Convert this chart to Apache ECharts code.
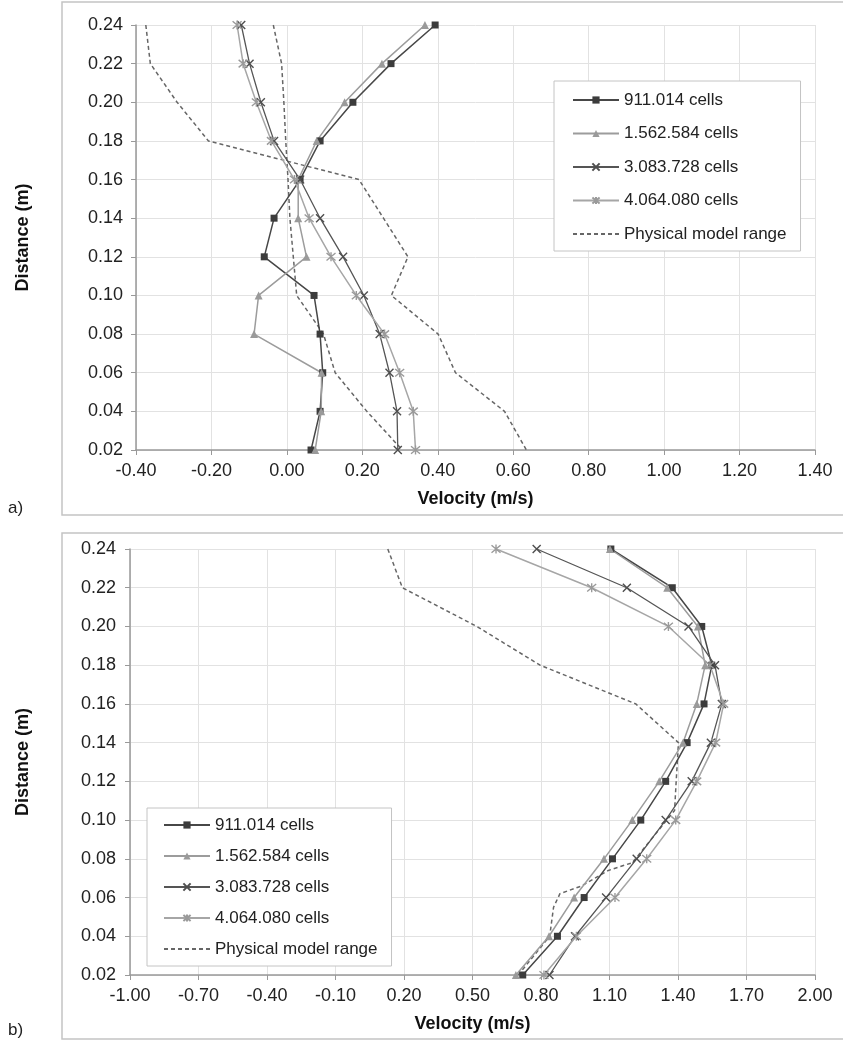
<!DOCTYPE html>
<html>
<head>
<meta charset="utf-8">
<script src="https://cdn.jsdelivr.net/npm/echarts@6/dist/echarts.min.js"></script>
<style>
  html, body { margin: 0; padding: 0; background: #fff; }
  #main { width: 843px; height: 1045px; }
</style>
</head>
<body>
<div id="main"></div>
<script>
// heights of the measuring points (m)
var distance = [0.24, 0.22, 0.20, 0.18, 0.16, 0.14, 0.12, 0.10, 0.08, 0.06, 0.04, 0.02];
var cellNames = ['911.014 cells', '1.562.584 cells', '3.083.728 cells', '4.064.080 cells'];
var rangeName = 'Physical model range';

// a) velocities (m/s)
var a911 = [0.393, 0.276, 0.175, 0.088, 0.035, -0.034, -0.060, 0.072, 0.088, 0.095, 0.088, 0.064];
var a1562 = [0.366, 0.252, 0.153, 0.079, 0.030, 0.030, 0.052, -0.075, -0.087, 0.092, 0.091, 0.075];
var a3083 = [-0.121, -0.099, -0.069, -0.034, 0.035, 0.088, 0.149, 0.204, 0.246, 0.272, 0.292, 0.294];
var a4064 = [-0.132, -0.116, -0.081, -0.041, 0.020, 0.059, 0.117, 0.184, 0.259, 0.299, 0.335, 0.341];
var aRangeOuter = [-0.374, -0.362, -0.291, -0.208, 0.191, 0.256, 0.321, 0.277, 0.401, 0.447, 0.577, 0.635];
var aRangeInner = [-0.036, -0.014, -0.008, -0.003, 0.003, 0.008, 0.017, 0.026, 0.097, 0.128, 0.212, 0.306];

// b) velocities (m/s)
var b911 = [1.106, 1.375, 1.504, 1.548, 1.514, 1.440, 1.346, 1.237, 1.113, 0.989, 0.872, 0.720];
var b1562 = [1.102, 1.353, 1.487, 1.519, 1.482, 1.422, 1.318, 1.200, 1.076, 0.945, 0.835, 0.690];
var b3083 = [0.781, 1.176, 1.446, 1.562, 1.592, 1.544, 1.460, 1.346, 1.219, 1.085, 0.949, 0.837];
var b4064 = [0.603, 1.022, 1.358, 1.540, 1.600, 1.565, 1.482, 1.390, 1.263, 1.124, 0.955, 0.813];
var bRangeDist = [0.24, 0.22, 0.20, 0.18, 0.16, 0.14, 0.12, 0.105, 0.078, 0.074, 0.066, 0.062, 0.055, 0.04, 0.02];
var bRangeVel = [0.129, 0.193, 0.519, 0.796, 1.215, 1.402, 1.392, 1.385, 1.200, 1.095, 0.978, 0.883, 0.855, 0.838, 0.700];

var FONT = "'Liberation Sans', Arial, sans-serif";

function pairs(xs, ys) {
    return xs.map(function (x, i) { return [x, ys[i]]; });
}

// marker look for each mesh
var looks = [
    { symbol: 'rect', size: 7, color: '#3c3c3c', line: '#474747', width: 1.5 },
    { symbol: 'triangle', size: 8, color: '#9a9a9a', line: '#9c9c9c', width: 1.5 },
    { symbol: 'path://M0,0L10,10M10,0L0,10', size: 8, color: 'transparent', border: '#4e4e4e', line: '#555', width: 1.3 },
    { symbol: 'path://M0,0L10,10M10,0L0,10M5,-1L5,11', size: 9, color: 'transparent', border: '#9a9a9a', line: '#a6a6a6', width: 1.5 }
];

function meshSeries(name, look, xs, idx) {
    return {
        name: name,
        type: 'line',
        xAxisIndex: idx, yAxisIndex: idx,
        data: pairs(xs, distance),
        symbol: look.symbol,
        symbolSize: look.size,
        showAllSymbol: true,
        lineStyle: { color: look.line, width: look.width },
        itemStyle: {
            color: look.border ? look.border : look.color,
            borderColor: look.border ? look.border : look.color,
            borderWidth: look.border ? 1.4 : 0
        },
        z: 3
    };
}

function rangeSeries(xs, ys, idx) {
    return {
        name: rangeName,
        type: 'line',
        xAxisIndex: idx, yAxisIndex: idx,
        data: pairs(xs, ys),
        showSymbol: false,
        symbol: 'none',
        lineStyle: { color: '#666', width: 1.5, type: [4, 3] },
        itemStyle: { color: '#666' },
        z: 2
    };
}

function xAxisFor(idx, min, max, step) {
    return {
        type: 'value', gridIndex: idx,
        min: min, max: max, interval: step,
        name: 'Velocity (m/s)', nameLocation: 'middle', nameGap: 40,
        nameTextStyle: { fontFamily: FONT, fontSize: 18, fontWeight: 'bold', color: '#111' },
        axisLine: { onZero: false, lineStyle: { color: '#999', width: 1.5 } },
        axisTick: { show: true, length: 5, lineStyle: { color: '#999' } },
        axisLabel: {
            fontFamily: FONT, fontSize: 18, color: '#222', margin: 12,
            formatter: function (v) { return v.toFixed(2); }
        },
        splitLine: { show: true, lineStyle: { color: '#e2e2e2', width: 1 } }
    };
}

function yAxisFor(idx, gap, margin) {
    return {
        type: 'value', gridIndex: idx,
        min: 0.02, max: 0.24, interval: 0.02,
        name: 'Distance (m)', nameLocation: 'middle', nameGap: gap,
        nameTextStyle: { fontFamily: FONT, fontSize: 18, fontWeight: 'bold', color: '#111' },
        axisLine: { show: true, onZero: false, lineStyle: { color: '#999', width: 1.5 } },
        axisTick: { show: true, length: 5, lineStyle: { color: '#999' } },
        axisLabel: {
            fontFamily: FONT, fontSize: 18, color: '#222', margin: margin,
            formatter: function (v) { return v.toFixed(2); }
        },
        splitLine: { show: true, lineStyle: { color: '#e2e2e2', width: 1 } }
    };
}

function legendFor(left, top, gap, pad) {
    var items = cellNames.map(function (n) { return { name: n }; });
    // dashed entry: line only, no marker
    items.push({ name: rangeName, itemStyle: { opacity: 0 } });
    return {
        orient: 'vertical',
        left: left, top: top,
        data: items,
        itemWidth: 46, itemHeight: 9, itemGap: gap,
        padding: pad,
        backgroundColor: '#fff',
        borderColor: '#c4c4c4', borderWidth: 1,
        selectedMode: false,
        textStyle: { fontFamily: FONT, fontSize: 17, color: '#222', lineHeight: 18 }
    };
}

var myChart = echarts.init(document.getElementById('main'));

var series = [];
[a911, a1562, a3083, a4064].forEach(function (xs, i) { series.push(meshSeries(cellNames[i], looks[i], xs, 0)); });
series.push(rangeSeries(aRangeOuter, distance, 0));
series.push(rangeSeries(aRangeInner, distance, 0));
[b911, b1562, b3083, b4064].forEach(function (xs, i) { series.push(meshSeries(cellNames[i], looks[i], xs, 1)); });
series.push(rangeSeries(bRangeVel, bRangeDist, 1));

var option = {
    backgroundColor: '#fff',
    animation: false,
    textStyle: { fontFamily: FONT },
    grid: [
        { left: 136, top: 25, width: 679, height: 425 },
        { left: 130, top: 549, width: 685, height: 426 }
    ],
    xAxis: [xAxisFor(0, -0.4, 1.4, 0.2), xAxisFor(1, -1.0, 2.0, 0.3)],
    yAxis: [yAxisFor(0, 104, 13), yAxisFor(1, 98, 14)],
    legend: [
        legendFor(554, 81, 15.5, [10, 14, 8, 18]),
        legendFor(147, 808, 13, [8, 14, 8, 16])
    ],
    graphic: [
        { type: 'rect', shape: { x: 62, y: 2, width: 800, height: 513 }, style: { fill: 'none', stroke: '#c4c4c4', lineWidth: 1.5 }, z: -1 },
        { type: 'rect', shape: { x: 62, y: 533, width: 800, height: 506 }, style: { fill: 'none', stroke: '#c4c4c4', lineWidth: 1.5 }, z: -1 },
        { type: 'text', left: 8, top: 500, style: { text: 'a)', font: '17px ' + FONT, fill: '#222' } },
        { type: 'text', left: 8, top: 1022, style: { text: 'b)', font: '17px ' + FONT, fill: '#222' } }
    ],
    series: series
};

myChart.setOption(option);
</script>
</body>
</html>
